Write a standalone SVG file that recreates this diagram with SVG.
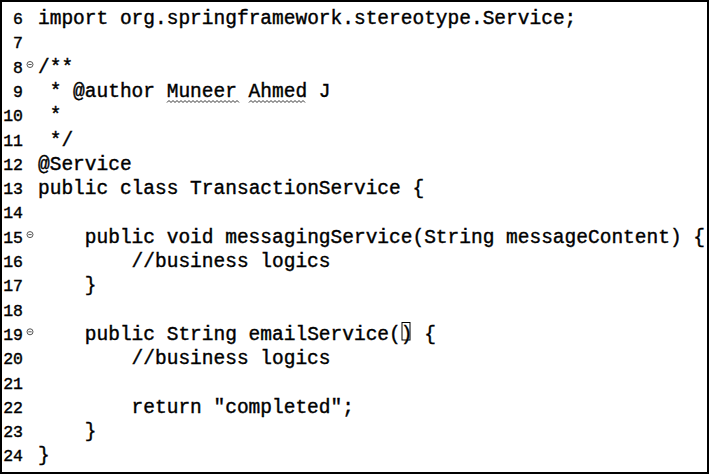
<svg xmlns="http://www.w3.org/2000/svg" width="709" height="474" viewBox="0 0 709 474">
<style>
.c{font-family:"Liberation Mono","DejaVu Sans Mono",monospace;font-size:19.5px;fill:#000;stroke:#000;stroke-width:0.4}
.n{font-family:"Liberation Mono","DejaVu Sans Mono",monospace;font-size:16.5px;fill:#000;stroke:#000;stroke-width:0.4;text-anchor:end}
.f{fill:#fff;stroke:#555;stroke-width:1}
.sq{fill:none;stroke:#333;stroke-width:1}
</style>
<rect x="1" y="1" width="707" height="472" fill="#fff" stroke="#000" stroke-width="2"/>
<g id="line-numbers">
<text class="n" x="23" y="24">6</text>
<text class="n" x="23" y="48.3">7</text>
<text class="n" x="23" y="72.6">8</text>
<text class="n" x="23" y="96.9">9</text>
<text class="n" x="23" y="121.2">10</text>
<text class="n" x="23" y="145.5">11</text>
<text class="n" x="23" y="169.8">12</text>
<text class="n" x="23" y="194.1">13</text>
<text class="n" x="23" y="218.4">14</text>
<text class="n" x="23" y="242.7">15</text>
<text class="n" x="23" y="267">16</text>
<text class="n" x="23" y="291.3">17</text>
<text class="n" x="23" y="315.6">18</text>
<text class="n" x="23" y="339.9">19</text>
<text class="n" x="23" y="364.2">20</text>
<text class="n" x="23" y="388.5">21</text>
<text class="n" x="23" y="412.8">22</text>
<text class="n" x="23" y="437.1">23</text>
<text class="n" x="23" y="461.4">24</text>
</g>
<g id="fold-markers">
<circle class="f" cx="30" cy="64.5" r="3"/><line x1="28.3" y1="64.5" x2="31.7" y2="64.5" stroke="#555"/>
<circle class="f" cx="30" cy="234.6" r="3"/><line x1="28.3" y1="234.6" x2="31.7" y2="234.6" stroke="#555"/>
<circle class="f" cx="30" cy="331.8" r="3"/><line x1="28.3" y1="331.8" x2="31.7" y2="331.8" stroke="#555"/>
</g>
<g id="code">
<text class="c" x="38" y="24">import org.springframework.stereotype.Service;</text>
<text class="c" x="38" y="72.6">/**</text>
<text class="c" x="49.7" y="96.9">* @author Muneer Ahmed J</text>
<text class="c" x="49.7" y="121.2">*</text>
<text class="c" x="49.7" y="145.5">*/</text>
<text class="c" x="38" y="169.8">@Service</text>
<text class="c" x="38" y="194.1">public class TransactionService {</text>
<text class="c" x="84.8" y="242.7">public void messagingService(String messageContent) {</text>
<text class="c" x="131.6" y="267">//business logics</text>
<text class="c" x="84.8" y="291.3">}</text>
<text class="c" x="84.8" y="339.9">public String emailService() {</text>
<text class="c" x="131.6" y="364.2">//business logics</text>
<text class="c" x="131.6" y="412.8">return "completed";</text>
<text class="c" x="84.8" y="437.1">}</text>
<text class="c" x="38" y="461.4">}</text>
</g>
<g id="spelling-marks">
<path class="sq" d="M167 102.5l2 -2 2 2 2 -2 2 2 2 -2 2 2 2 -2 2 2 2 -2 2 2 2 -2 2 2 2 -2 2 2 2 -2 2 2 2 -2 2 2 2 -2 2 2 2 -2 2 2 2 -2 2 2 2 -2 2 2 2 -2 2 2 2 -2 2 2 2 -2 2 2 2 -2 2 2 2 -2 2 2"/>
<path class="sq" d="M249 102.5l2 -2 2 2 2 -2 2 2 2 -2 2 2 2 -2 2 2 2 -2 2 2 2 -2 2 2 2 -2 2 2 2 -2 2 2 2 -2 2 2 2 -2 2 2 2 -2 2 2 2 -2 2 2 2 -2 2 2 2 -2 2 2"/>
</g>
<rect id="bracket-match" x="402" y="322.5" width="8" height="17.5" fill="none" stroke="#000" stroke-width="1"/>
</svg>
